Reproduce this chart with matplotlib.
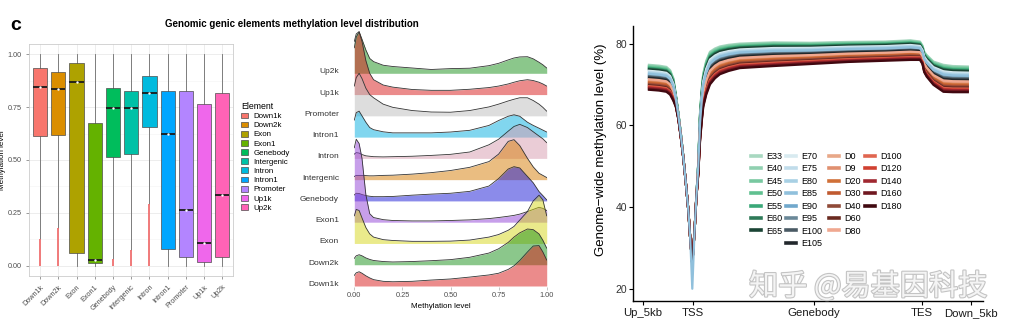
import matplotlib.pyplot as plt
import matplotlib as mpl
import matplotlib.patheffects as pe
import numpy as np
from matplotlib.patches import Patch
from matplotlib.lines import Line2D

mpl.rcParams['font.family'] = ['Liberation Sans', 'DejaVu Sans']

W, H = 1017, 328

# ---------------- datos: boxplot
elements = ['Down1k', 'Down2k', 'Exon', 'Exon1', 'Genebody', 'Intergenic',
            'Intron', 'Intron1', 'Promoter', 'Up1k', 'Up2k']
element_colors = ['#F8766D', '#DB8E00', '#AEA200', '#64B200', '#00BD5C', '#00C1A7',
                  '#00BADE', '#00A6FF', '#B385FF', '#EF67EB', '#FF63B6']
box_q1 = [0.614, 0.618, 0.058, 0.011, 0.516, 0.527, 0.655, 0.080, 0.043, 0.017, 0.039]
box_med = [0.847, 0.834, 0.871, 0.028, 0.748, 0.748, 0.815, 0.625, 0.263, 0.106, 0.334]
box_q3 = [0.934, 0.918, 0.957, 0.673, 0.842, 0.828, 0.897, 0.826, 0.826, 0.763, 0.815]
whisker_high = [1.0] * 11
outlier_span = [0.126, 0.177, 0.0, 0.0, 0.03, 0.074, 0.292, 0.0, 0.0, 0.0, 0.0]

# ---------------- datos: ridgeline (filas de abajo hacia arriba)
ridge_rows = ['Down1k', 'Down2k', 'Exon', 'Exon1', 'Genebody', 'Intergenic',
              'Intron', 'Intron1', 'Promoter', 'Up1k', 'Up2k']
ridge_colors = ['#d91919', '#199119', '#d7d719', '#9141d7', '#1919d7', '#d77d05',
                '#d79baf', '#05afe1', '#bdbdbd', '#d91919', '#199119']
ridge_x = [0, 0.01, 0.025, 0.04, 0.06, 0.08, 0.1, 0.15, 0.2, 0.3, 0.4, 0.5,
           0.6, 0.7, 0.75, 0.8, 0.83, 0.86, 0.9, 0.93, 0.96, 0.98, 1.0]
dens_down1k = [0.5, 0.62, 0.67, 0.6, 0.48, 0.38, 0.3, 0.22, 0.2, 0.22, 0.28, 0.33,
               0.42, 0.52, 0.6, 0.78, 0.95, 1.2, 1.6, 1.88, 1.9, 1.6, 1.22]
dens_down2k = [0.3, 0.42, 0.47, 0.42, 0.32, 0.25, 0.2, 0.15, 0.13, 0.15, 0.19, 0.24,
               0.35, 0.55, 0.75, 1.05, 1.3, 1.5, 1.68, 1.65, 1.45, 1.15, 0.78]
dens_exon = [1.3, 1.6, 1.55, 1.2, 0.75, 0.45, 0.3, 0.18, 0.14, 0.1, 0.1, 0.11,
             0.16, 0.3, 0.42, 0.62, 0.8, 1.1, 1.5, 2.0, 2.27, 2.05, 1.3]
dens_exon1 = [3.5, 3.9, 3.7, 3.0, 1.3, 0.4, 0.22, 0.12, 0.08, 0.06, 0.06, 0.08,
              0.11, 0.17, 0.22, 0.28, 0.32, 0.38, 0.5, 0.6, 0.7, 0.65, 0.55]
dens_genebody = [0.28, 0.36, 0.35, 0.3, 0.25, 0.22, 0.2, 0.2, 0.21, 0.27, 0.32, 0.36,
                 0.45, 0.7, 1.05, 1.5, 1.61, 1.55, 1.15, 0.85, 0.44, 0.25, 0.05]
dens_intergenic = [0.15, 0.2, 0.2, 0.2, 0.19, 0.18, 0.18, 0.2, 0.21, 0.26, 0.33, 0.43,
                   0.58, 0.85, 1.2, 1.8, 1.88, 1.6, 1.0, 0.6, 0.3, 0.2, 0.1]
dens_intron = [0.2, 0.27, 0.25, 0.18, 0.12, 0.1, 0.08, 0.07, 0.08, 0.1, 0.14, 0.19,
               0.3, 0.64, 0.9, 1.28, 1.5, 1.6, 1.45, 1.25, 1.05, 0.92, 0.74]
dens_intron1 = [0.8, 1.15, 1.22, 1.0, 0.7, 0.45, 0.35, 0.25, 0.2, 0.2, 0.2, 0.24,
                0.32, 0.55, 0.78, 0.98, 1.05, 0.98, 0.7, 0.55, 0.42, 0.33, 0.24]
dens_promoter = [1.4, 1.8, 2.0, 1.75, 1.3, 1.0, 0.85, 0.55, 0.4, 0.25, 0.18, 0.17,
                 0.25, 0.42, 0.55, 0.7, 0.78, 0.85, 0.85, 0.72, 0.55, 0.4, 0.22]
dens_up1k = [2.2, 2.7, 2.95, 2.5, 1.6, 1.0, 0.7, 0.45, 0.35, 0.24, 0.2, 0.2,
             0.25, 0.33, 0.4, 0.5, 0.58, 0.65, 0.7, 0.66, 0.58, 0.5, 0.4]
dens_up2k = [1.5, 1.85, 1.96, 1.6, 1.1, 0.7, 0.55, 0.38, 0.32, 0.25, 0.18, 0.22,
             0.24, 0.36, 0.47, 0.63, 0.72, 0.77, 0.78, 0.68, 0.52, 0.4, 0.25]
ridge_dens = [dens_down1k, dens_down2k, dens_exon, dens_exon1, dens_genebody,
              dens_intergenic, dens_intron, dens_intron1, dens_promoter,
              dens_up1k, dens_up2k]

# ---------------- datos: perfil de metilación
meta_x = [0, 4, 7, 8.5, 9.8, 10.8, 11.8, 12.8, 13.8, 14.8, 15.8, 16.6, 17.4, 18.3,
          19.0, 19.8, 20.5, 21.2, 21.8, 23, 24.5, 26.5, 28.5, 32, 36.5, 50, 65, 80,
          95, 105, 108.8, 109.8, 110.5, 111.5, 114.2, 118.2, 122, 128]
meta_top = [74.8, 74.6, 74.3, 73.5, 71.5, 67.5, 63, 58, 52.3, 46, 39.3, 32, 26, 34,
            42, 50.8, 63, 69, 72.7, 75.8, 78, 78.8, 79.3, 79.7, 80, 80.3, 80.2, 80.4,
            80.5, 80.8, 80.5, 79.5, 78, 77.2, 75.6, 74.8, 74.5, 74.4]
meta_bottom = [68.7, 68.5, 68.2, 67.5, 66, 64.5, 61.5, 57, 52, 46, 39.3, 32, 26, 34,
               42, 48, 56, 61, 64.5, 67.5, 70, 71.5, 72.5, 73.3, 74, 74.5, 75, 75.5,
               75.8, 76, 76, 75, 73, 71.9, 69.9, 68.2, 68.1, 68.1]
tss_index = 12
samples = ['E33', 'E40', 'E45', 'E50', 'E55', 'E60', 'E65',
           'E70', 'E75', 'E80', 'E85', 'E90', 'E95', 'E100', 'E105',
           'D0', 'D9', 'D20', 'D30', 'D40', 'D60', 'D80',
           'D100', 'D120', 'D140', 'D160', 'D180']
sample_colors = ['#a8d8c0', '#90d0b0', '#78c8a0', '#60c090', '#3aa878', '#2e7a58', '#1a4434',
                 '#d8eaf0', '#c0dcea', '#a8d0e4', '#90c0dc', '#70a8cc', '#6a8898', '#4a5a64', '#22282c',
                 '#e8a888', '#e09070', '#d07038', '#c05a30', '#904a38', '#6a2a20', '#f0a890',
                 '#e06650', '#d04030', '#a02830', '#701820', '#400810']
# posición relativa de cada muestra dentro del haz (0 = arriba, 1 = abajo)
sample_rank = [0.0, 0.03, 0.06, 0.09, 0.12, 0.15, 0.18,
               0.24, 0.28, 0.32, 0.36, 0.40, 0.44, 0.48, 0.52,
               0.62, 0.66, 0.70, 0.74, 0.78, 0.82, 0.58,
               0.86, 0.89, 0.92, 0.96, 1.0]
tss_min = [26] * 10 + [20] + [26] * 16
legend_columns = [samples[0:7], samples[7:15], samples[15:22], samples[22:27]]
meta_ticks = [-2.4, 17.5, 66.3, 109.7, 129.4]
meta_ticklabels = ['Up_5kb', 'TSS', 'Genebody', 'TES', 'Down_5kb']

fig = plt.figure(figsize=(W / 100, H / 100), dpi=100)

fig.text(10 / W, 1 - 25 / H, 'c', fontsize=14, fontweight='bold', va='center', ha='left')
fig.text(292 / W, 1 - 24 / H, 'Genomic genic elements methylation level distribution',
         fontsize=7, fontweight='bold', ha='center', va='center')

# ---------------- panel 1: boxplot
ax1 = fig.add_axes([29.3 / W, 1 - 276 / H, 204 / W, 232 / H])
pos = np.arange(1, len(elements) + 1)
stats = []
for i in range(len(elements)):
    stats.append(dict(med=box_med[i], q1=box_q1[i], q3=box_q3[i],
                      whislo=outlier_span[i], whishi=whisker_high[i], fliers=[]))
bp = ax1.bxp(stats, positions=pos, widths=0.78, patch_artist=True, showcaps=False,
             showfliers=False,
             boxprops=dict(edgecolor='#4d4d4d', linewidth=0.5),
             whiskerprops=dict(color='#6b6b6b', linewidth=0.6),
             medianprops=dict(color='#1a1a1a', linewidth=1.3))
for patch, c in zip(bp['boxes'], element_colors):
    patch.set_facecolor(c)
    patch.set_zorder(3)
for m in bp['medians']:
    m.set_zorder(4)
for p, s in zip(pos, outlier_span):
    if s > 0:
        ax1.vlines(p, 0, s, color='#f07070', lw=1.3, zorder=2.5)
ax1.scatter(pos, box_med, s=3, color='white', zorder=5, linewidths=0)
ax1.set_xlim(0.41, 11.6)
ax1.set_ylim(-0.049, 1.049)
ax1.set_yticks([0, 0.25, 0.5, 0.75, 1.0])
ax1.set_yticklabels(['0.00', '0.25', '0.50', '0.75', '1.00'])
ax1.set_yticks([0.125, 0.375, 0.625, 0.875], minor=True)
ax1.set_xticks(pos)
ax1.set_xticklabels(elements, rotation=45, ha='right', va='top', rotation_mode='anchor')
ax1.grid(True, which='major', color='#e6e6e6', lw=0.5)
ax1.grid(True, which='minor', axis='y', color='#f3f3f3', lw=0.4)
ax1.set_axisbelow(True)
ax1.tick_params(labelsize=5.2, colors='#4d4d4d', length=2, width=0.4)
ax1.tick_params(which='minor', length=0)
for sp in ax1.spines.values():
    sp.set_color('#cccccc')
    sp.set_linewidth(0.6)
ax1.set_ylabel('Methylation level', fontsize=5.8)
ax1.yaxis.set_label_coords(-0.112, 0.5)

handles = [Patch(facecolor=c, edgecolor='#4d4d4d', lw=0.5) for c in element_colors]
fig.legend(handles, elements, title='Element', loc='upper left',
           bbox_to_anchor=(241 / W, 1 - 102 / H), frameon=False, fontsize=5.7,
           title_fontsize=6.3, labelspacing=0.19, handlelength=0.9, handleheight=0.75,
           handletextpad=0.7, borderpad=0, borderaxespad=0, alignment='left')

# ---------------- panel 2: ridgeline
ax2 = fig.add_axes([354.3 / W, 1 - 287 / H, 192.4 / W, 259 / H])
for i in range(len(ridge_rows) - 1, -1, -1):
    top = [i + h for h in ridge_dens[i]]
    z = 10 + (len(ridge_rows) - i)
    ax2.fill_between(ridge_x, i, top, color=ridge_colors[i], alpha=0.5, lw=0, zorder=z)
    ax2.plot(ridge_x, top, color='#333333', lw=0.6, zorder=z + 0.5)
ax2.set_xlim(0, 1)
ax2.set_ylim(-0.047, 12.13)
ax2.set_yticks([i + 0.12 for i in range(len(ridge_rows))])
ax2.set_yticklabels(ridge_rows)
ax2.set_xticks([0, 0.25, 0.5, 0.75, 1.0])
ax2.set_xticklabels(['0.00', '0.25', '0.50', '0.75', '1.00'])
ax2.tick_params(axis='y', length=0, labelsize=6, labelcolor='#333333', pad=11)
ax2.tick_params(axis='x', length=2, width=0.4, color='#999999', labelsize=5.3,
                labelcolor='#4d4d4d', pad=1.5)
for sp in ax2.spines.values():
    sp.set_visible(False)
ax2.set_xlabel('Methylation level', fontsize=5.8)
ax2.xaxis.set_label_coords(0.45, -0.06)

# ---------------- panel 3: perfil
ax3 = fig.add_axes([633 / W, 1 - 301 / H, 350 / W, 275 / H])
top_arr = np.array(meta_top)
bot_arr = np.array(meta_bottom)
for i, s in enumerate(samples):
    ys = top_arr + (bot_arr - top_arr) * sample_rank[i]
    ys[tss_index] = tss_min[i]
    z = 3 if tss_min[i] < 26 else 2
    ax3.plot(meta_x, ys, color=sample_colors[i], lw=1.6, zorder=z, solid_joinstyle='round')
ax3.set_xlim(-6.4, 134.1)
ax3.set_ylim(17, 84.3)
ax3.set_yticks([20, 40, 60, 80])
ax3.set_xticks(meta_ticks)
ax3.set_xticklabels(meta_ticklabels)
ax3.spines['top'].set_visible(False)
ax3.spines['right'].set_visible(False)
for sp in ['left', 'bottom']:
    ax3.spines[sp].set_linewidth(1.0)
ax3.tick_params(axis='y', labelsize=7.5, labelcolor='#333333', length=3, width=0.8, pad=1)
ax3.tick_params(axis='x', labelsize=8.2, labelcolor='#1a1a1a', length=3, width=0.8, pad=2)
ax3.set_ylabel('Genome\u2212wide methylation level (%)', fontsize=9.5)
ax3.yaxis.set_label_coords(-0.074, 0.549)

col_x = [751, 786, 829, 865]
for xs, names in zip(col_x, legend_columns):
    hs = [Line2D([], [], color=sample_colors[samples.index(n)], lw=2.6) for n in names]
    fig.legend(hs, names, loc='upper left', bbox_to_anchor=(xs / W, 1 - 152 / H),
               frameon=False, fontsize=6.5, labelspacing=0.38, handlelength=1.1,
               handletextpad=0.55, borderpad=0, borderaxespad=0)

fig.text(868 / W, 1 - 287 / H, '知乎 @易基因科技', fontsize=21, color='#f4f4f4',
         family=['Noto Sans CJK SC', 'DejaVu Sans'], ha='center', va='center', zorder=20,
         path_effects=[pe.withStroke(linewidth=1.6, foreground='#c4c4c4')])

fig.savefig('out.png', dpi=100)
